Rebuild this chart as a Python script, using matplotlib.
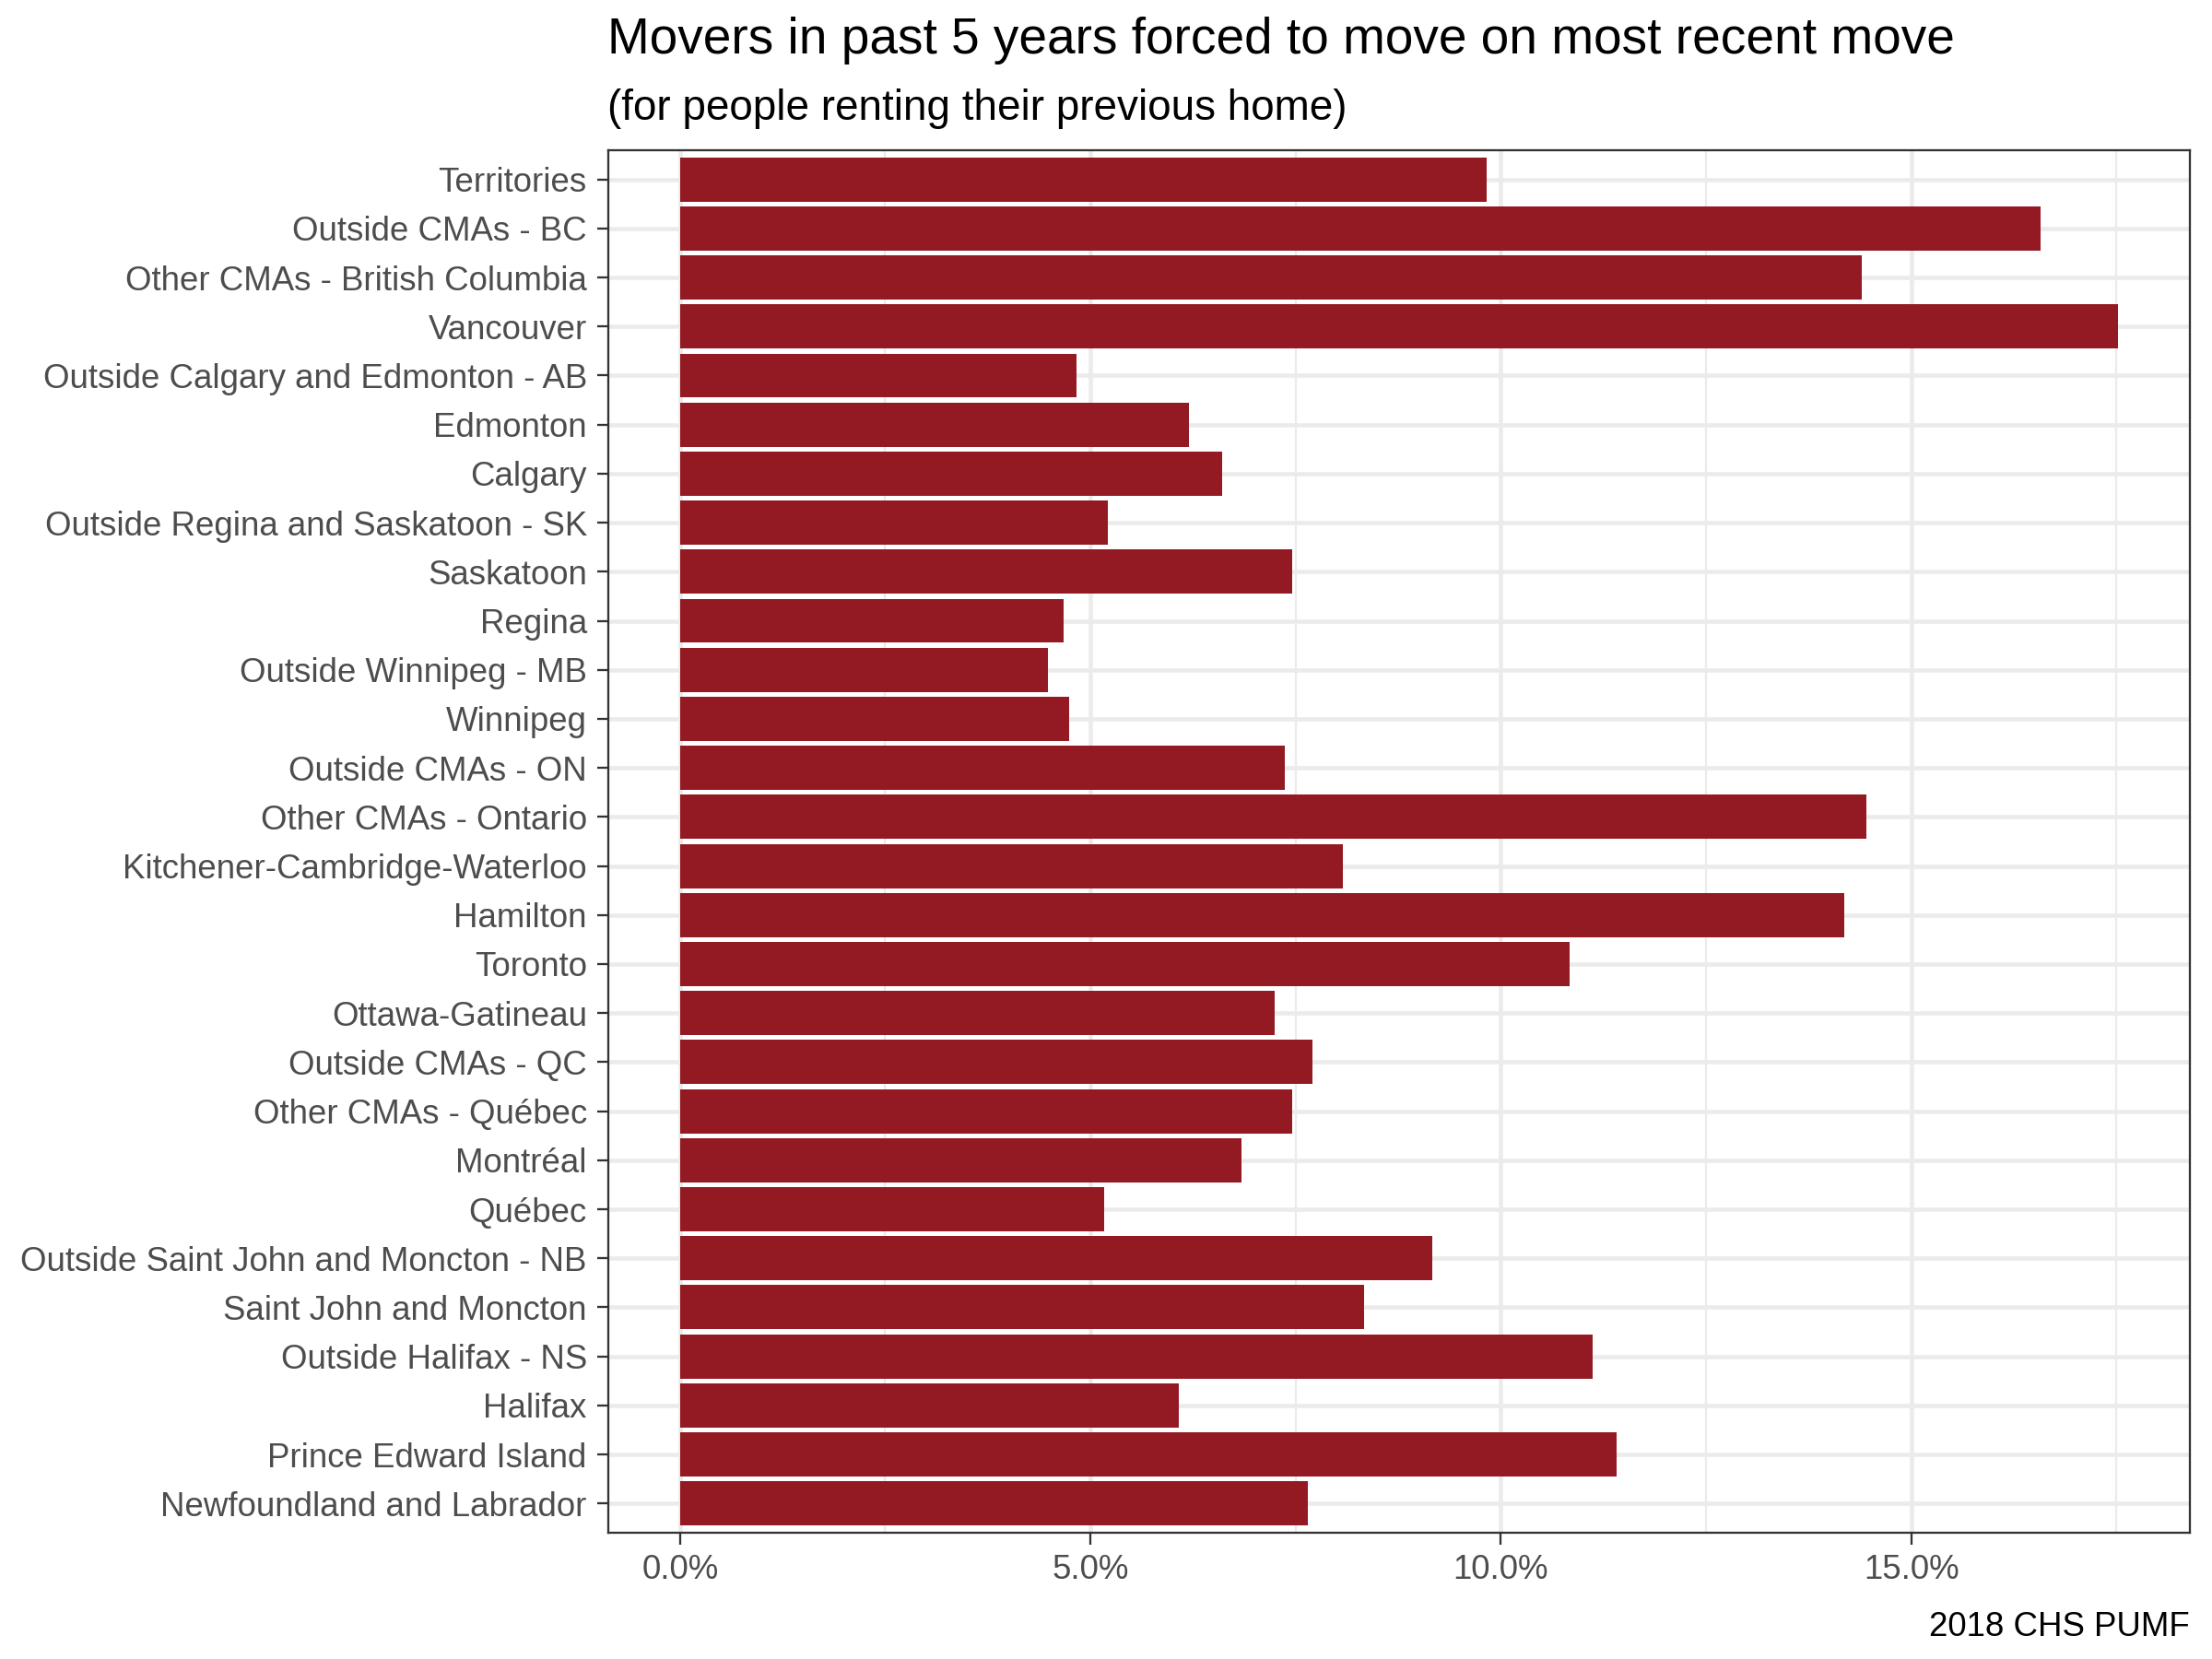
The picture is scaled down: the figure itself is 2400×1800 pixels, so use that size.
import matplotlib.pyplot as plt
from matplotlib.ticker import FuncFormatter, MultipleLocator

plt.rcParams['font.family'] = ['Liberation Sans', 'DejaVu Sans']

regions = [
    "Newfoundland and Labrador", "Prince Edward Island", "Halifax", "Outside Halifax - NS",
    "Saint John and Moncton", "Outside Saint John and Moncton - NB", "Québec", "Montréal",
    "Other CMAs - Québec", "Outside CMAs - QC", "Ottawa-Gatineau", "Toronto", "Hamilton",
    "Kitchener-Cambridge-Waterloo", "Other CMAs - Ontario", "Outside CMAs - ON", "Winnipeg",
    "Outside Winnipeg - MB", "Regina", "Saskatoon", "Outside Regina and Saskatoon - SK",
    "Calgary", "Edmonton", "Outside Calgary and Edmonton - AB", "Vancouver",
    "Other CMAs - British Columbia", "Outside CMAs - BC", "Territories",
]
share = [
    7.65, 11.41, 6.08, 11.12,
    8.33, 9.16, 5.17, 6.84,
    7.46, 7.71, 7.25, 10.84, 14.19,
    8.08, 14.45, 7.37, 4.74,
    4.48, 4.67, 7.46, 5.21,
    6.60, 6.20, 4.83, 17.52,
    14.40, 16.58, 9.83,
]

fig = plt.figure(figsize=(8, 6), dpi=300)
ax = fig.add_axes([0.2749, 0.076, 0.7151, 0.8336])

ypos = range(len(regions))
ax.barh(ypos, share, height=0.9, color="#931a22", zorder=3)

ax.set_yticks(list(ypos))
ax.set_yticklabels(regions)
ax.set_ylim(-0.6, len(regions) - 0.4)
xmax = max(share)
ax.set_xlim(-0.05 * xmax, 1.05 * xmax)
ax.xaxis.set_major_locator(MultipleLocator(5))
ax.xaxis.set_minor_locator(MultipleLocator(2.5))
ax.xaxis.set_major_formatter(FuncFormatter(lambda v, p: f"{v:.1f}%"))

ax.grid(True, which="major", color="#ebebeb", linewidth=1.1, zorder=0)
ax.grid(True, which="minor", axis="x", color="#ebebeb", linewidth=0.55, zorder=0)
ax.tick_params(which="minor", length=0)
ax.tick_params(which="major", length=3, width=0.55, color="#333333",
               labelcolor="#4d4d4d", labelsize=8.8, pad=2.5)
for s in ax.spines.values():
    s.set_color("#333333")
    s.set_linewidth(0.55)

fig.text(0.2745, 0.968, "Movers in past 5 years forced to move on most recent move",
         fontsize=13.2, ha="left", va="baseline")
fig.text(0.2745, 0.928, "(for people renting their previous home)",
         fontsize=11, ha="left", va="baseline")
fig.text(0.990, 0.014, "2018 CHS PUMF", fontsize=8.8, ha="right", va="baseline")

fig.savefig("out.png", dpi=300)
